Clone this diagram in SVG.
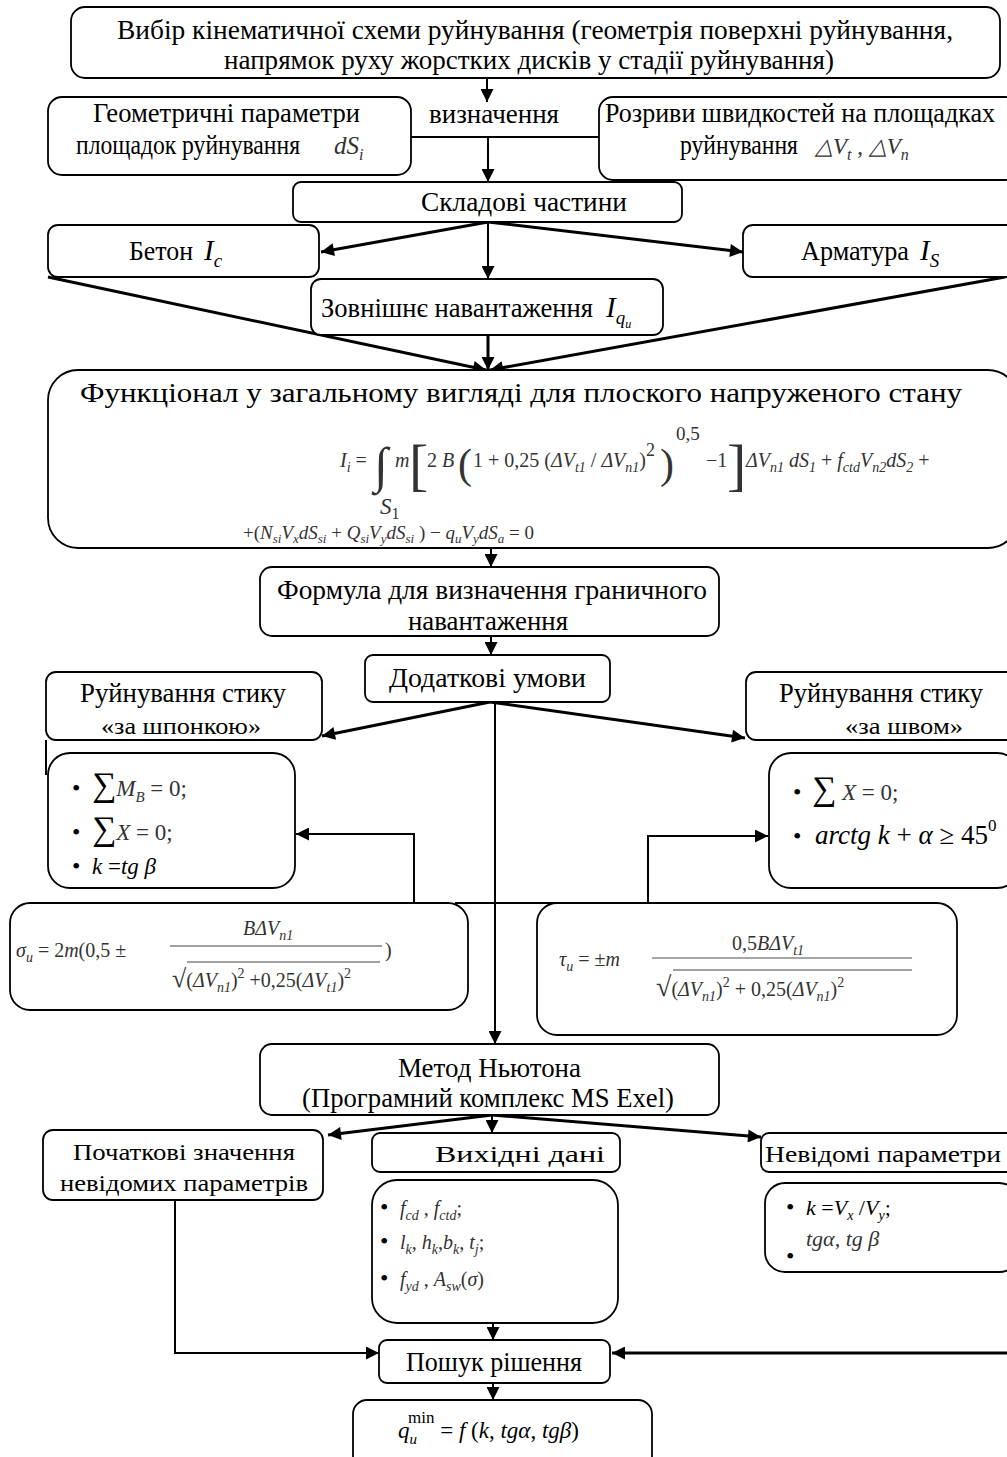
<svg xmlns="http://www.w3.org/2000/svg" width="1007" height="1457" viewBox="0 0 1007 1457">
<style>
.box{fill:#fff;stroke:#000;stroke-width:1.8}
.t{font-family:"Liberation Serif","Times New Roman",serif;font-size:27px;fill:#000}
.w{font-family:"Liberation Serif","Times New Roman",serif;font-size:24px;fill:#000}
.m{font-family:"Liberation Serif","Times New Roman",serif;font-style:italic;font-size:20px;fill:#333}
.n{font-style:normal}
.c{stroke:#000;stroke-width:2;fill:none}
.k{stroke:#000;stroke-width:3;fill:none}
.b{font-family:"Liberation Serif",serif;font-size:24px;fill:#000}
</style>
<defs>
<marker id="ah" viewBox="0 0 10 10" refX="10" refY="5" markerWidth="16" markerHeight="13" markerUnits="userSpaceOnUse" orient="auto"><path d="M0,0 L10,5 L0,10 z" fill="#000"/></marker>
</defs>
<rect width="1007" height="1457" fill="#fff"/>

<g id="connectors">
<line class="c" x1="487" y1="78" x2="487" y2="102" marker-end="url(#ah)"/>
<line class="c" x1="411" y1="137" x2="599" y2="137"/>
<line class="c" x1="488" y1="137" x2="488" y2="182" marker-end="url(#ah)"/>
<line class="k" x1="488" y1="222" x2="321" y2="252" marker-end="url(#ah)"/>
<line class="k" x1="488" y1="222" x2="743" y2="252" marker-end="url(#ah)"/>
<line class="c" x1="488" y1="222" x2="488" y2="279" marker-end="url(#ah)"/>
<line class="k" x1="48" y1="277" x2="486" y2="370" marker-end="url(#ah)"/>
<line class="k" x1="1005" y1="277" x2="490" y2="370" marker-end="url(#ah)"/>
<line class="k" x1="488" y1="335" x2="488" y2="370" marker-end="url(#ah)"/>
<line class="c" x1="491" y1="548" x2="491" y2="567" marker-end="url(#ah)"/>
<line class="c" x1="491" y1="636" x2="491" y2="655" marker-end="url(#ah)"/>
<line class="k" x1="490" y1="702" x2="322" y2="736" marker-end="url(#ah)"/>
<line class="k" x1="490" y1="702" x2="745" y2="738" marker-end="url(#ah)"/>
<line class="c" x1="495" y1="702" x2="495" y2="1044" marker-end="url(#ah)"/>
<line class="c" x1="46" y1="740" x2="46" y2="775"/>
<polyline class="c" points="414,903 414,834 296,834" marker-end="url(#ah)"/>
<polyline class="c" points="648,903 648,836 768,836" marker-end="url(#ah)"/>
<line class="c" x1="455" y1="903" x2="570" y2="903"/>
<line class="k" x1="492" y1="1115" x2="328" y2="1135" marker-end="url(#ah)"/>
<line class="c" x1="492" y1="1115" x2="492" y2="1133" marker-end="url(#ah)"/>
<line class="k" x1="492" y1="1115" x2="761" y2="1137" marker-end="url(#ah)"/>
<line class="c" x1="493" y1="1323" x2="493" y2="1340" marker-end="url(#ah)"/>
<polyline class="c" points="175,1200 175,1353 379,1353" marker-end="url(#ah)"/>
<line class="k" x1="1007" y1="1353" x2="612" y2="1353" marker-end="url(#ah)"/>
<line class="c" x1="493" y1="1383" x2="493" y2="1400" marker-end="url(#ah)"/>
</g>

<g id="n-choice">
<rect class="box" x="71" y="7" width="929" height="71" rx="14"/>
<text class="t" x="117" y="39" textLength="836" lengthAdjust="spacingAndGlyphs">Вибір кінематичної схеми руйнування (геометрія поверхні руйнування,</text>
<text class="t" x="224" y="69" textLength="610" lengthAdjust="spacingAndGlyphs">напрямок руху жорстких дисків у стадії руйнування)</text>
</g>

<g id="n-geom">
<rect class="box" x="48" y="97" width="363" height="78" rx="14"/>
<text class="t" x="93" y="122" textLength="267" lengthAdjust="spacingAndGlyphs">Геометричні параметри</text>
<text class="t" x="76" y="154" textLength="224" lengthAdjust="spacingAndGlyphs">площадок руйнування</text>
<text class="m" x="334" y="154" style="font-size:25px">dS<tspan font-size="16" dy="6">i</tspan></text>
</g>

<text id="lbl-def" class="t" x="429" y="123" textLength="130" lengthAdjust="spacingAndGlyphs">визначення</text>

<g id="n-rupt">
<rect class="box" x="599" y="97" width="420" height="83" rx="14"/>
<text class="t" x="605" y="122" textLength="390" lengthAdjust="spacingAndGlyphs">Розриви швидкостей на площадках</text>
<text class="t" x="680" y="154" textLength="118" lengthAdjust="spacingAndGlyphs">руйнування</text>
<text class="m" x="815" y="154" style="font-size:23px">△V<tspan font-size="16" dy="6">t</tspan><tspan class="n" dy="-6"> , </tspan>△V<tspan font-size="16" dy="6">n</tspan></text>
</g>

<g id="n-parts">
<rect class="box" x="293" y="182" width="389" height="40" rx="8"/>
<text class="t" x="421" y="211" textLength="206" lengthAdjust="spacingAndGlyphs">Складові частини</text>
</g>

<g id="n-concrete">
<rect class="box" x="48" y="225" width="271" height="52" rx="10"/>
<text class="t" x="129" y="260" textLength="64" lengthAdjust="spacingAndGlyphs">Бетон</text>
<text class="m" x="204" y="260" style="font-size:29px;fill:#000">I<tspan font-size="19" dy="7">c</tspan></text>
</g>

<g id="n-rebar">
<rect class="box" x="743" y="225" width="276" height="52" rx="10"/>
<text class="t" x="801" y="260" textLength="108" lengthAdjust="spacingAndGlyphs">Арматура</text>
<text class="m" x="920" y="260" style="font-size:29px;fill:#000">I<tspan font-size="19" dy="7">S</tspan></text>
</g>

<g id="n-ext">
<rect class="box" x="311" y="279" width="352" height="56" rx="10"/>
<text class="t" x="321" y="317" textLength="272" lengthAdjust="spacingAndGlyphs">Зовнішнє навантаження</text>
<text class="m" x="606" y="317" style="font-size:29px;fill:#000">I<tspan font-size="19" dy="7">q</tspan><tspan font-size="12" dy="4">u</tspan></text>
</g>

<g id="n-functional">
<rect class="box" x="48" y="370" width="970" height="178" rx="30"/>
<text class="t" x="80" y="402" textLength="882" lengthAdjust="spacingAndGlyphs">Функціонал у загальному вигляді для плоского напруженого стану</text>
<text class="m" x="340" y="467">I<tspan font-size="14" dy="5">i</tspan><tspan class="n" dy="-5"> =</tspan></text>
<text class="m" x="374" y="482" style="font-size:50px;font-style:normal">∫</text>
<text class="m" x="395" y="467">m</text>
<text class="m" x="409" y="484" style="font-size:58px;font-style:normal">[</text>
<text class="m" x="427" y="467"><tspan class="n">2</tspan> B</text>
<text class="m" x="458" y="478" style="font-size:42px;font-style:normal">(</text>
<text class="m" x="473" y="467"><tspan class="n">1 + 0,25 (</tspan>ΔV<tspan font-size="14" dy="5">t1</tspan><tspan class="n" dy="-5"> / </tspan>ΔV<tspan font-size="14" dy="5">n1</tspan><tspan class="n" dy="-5">)</tspan><tspan class="n" font-size="18" dy="-11">2</tspan></text>
<text class="m" x="660" y="478" style="font-size:42px;font-style:normal">)</text>
<text class="m" x="676" y="440" style="font-size:19px;font-style:normal">0,5</text>
<text class="m" x="706" y="467" style="font-style:normal">−1</text>
<text class="m" x="727" y="484" style="font-size:58px;font-style:normal">]</text>
<text class="m" x="746" y="467">ΔV<tspan font-size="14" dy="5">n1</tspan><tspan dy="-5"> dS</tspan><tspan font-size="14" dy="5">1</tspan><tspan class="n" dy="-5"> + </tspan>f<tspan font-size="14" dy="5">ctd</tspan><tspan dy="-5">V</tspan><tspan font-size="14" dy="5">n2</tspan><tspan dy="-5">dS</tspan><tspan font-size="14" dy="5">2</tspan><tspan class="n" dy="-5"> +</tspan></text>
<text class="m" x="380" y="514" style="font-size:23px">S<tspan class="n" font-size="16" dy="5">1</tspan></text>
<text class="m" x="243" y="539" style="font-size:19px"><tspan class="n">+(</tspan>N<tspan font-size="13" dy="4">si</tspan><tspan dy="-4">V</tspan><tspan font-size="13" dy="4">x</tspan><tspan dy="-4">dS</tspan><tspan font-size="13" dy="4">si</tspan><tspan class="n" dy="-4"> + </tspan>Q<tspan font-size="13" dy="4">si</tspan><tspan dy="-4">V</tspan><tspan font-size="13" dy="4">y</tspan><tspan dy="-4">dS</tspan><tspan font-size="13" dy="4">si</tspan><tspan class="n" dy="-4"> ) − </tspan>q<tspan font-size="13" dy="4">u</tspan><tspan dy="-4">V</tspan><tspan font-size="13" dy="4">y</tspan><tspan dy="-4">dS</tspan><tspan font-size="13" dy="4">a</tspan><tspan class="n" dy="-4"> = 0</tspan></text>
</g>

<g id="n-formula">
<rect class="box" x="260" y="567" width="459" height="69" rx="12"/>
<text class="t" x="277" y="599" textLength="430" lengthAdjust="spacingAndGlyphs">Формула для визначення граничного</text>
<text class="t" x="408" y="630" textLength="160" lengthAdjust="spacingAndGlyphs">навантаження</text>
</g>

<g id="n-extra">
<rect class="box" x="365" y="655" width="245" height="47" rx="8"/>
<text class="t" x="389" y="687" textLength="197" lengthAdjust="spacingAndGlyphs">Додаткові умови</text>
</g>

<g id="n-key">
<rect class="box" x="46" y="672" width="276" height="68" rx="10"/>
<text class="t" x="80" y="702" textLength="206" lengthAdjust="spacingAndGlyphs">Руйнування стику</text>
<text class="w" x="101" y="734" textLength="160" lengthAdjust="spacingAndGlyphs">«за шпонкою»</text>
</g>

<g id="n-seam">
<rect class="box" x="746" y="672" width="273" height="68" rx="10"/>
<text class="t" x="779" y="702" textLength="204" lengthAdjust="spacingAndGlyphs">Руйнування стику</text>
<text class="w" x="845" y="734" textLength="118" lengthAdjust="spacingAndGlyphs">«за швом»</text>
</g>

<g id="n-key-cond">
<rect class="box" x="48" y="753" width="247" height="135" rx="22"/>
<text class="b" x="72" y="796">•</text>
<text class="m" x="92" y="796" style="font-size:23px"><tspan class="n" font-size="34" fill="#000">∑</tspan>M<tspan font-size="15" dy="6">B</tspan><tspan class="n" dy="-6"> = 0;</tspan></text>
<text class="b" x="72" y="840">•</text>
<text class="m" x="92" y="840" style="font-size:23px"><tspan class="n" font-size="34" fill="#000">∑</tspan>X<tspan class="n"> = 0;</tspan></text>
<text class="b" x="72" y="874">•</text>
<text class="m" x="92" y="874" style="font-size:23px;fill:#000">k<tspan class="n"> =</tspan>tg β</text>
</g>

<g id="n-seam-cond">
<rect class="box" x="769" y="753" width="250" height="135" rx="22"/>
<text class="b" x="793" y="800">•</text>
<text class="m" x="812" y="800" style="font-size:23px"><tspan class="n" font-size="34" fill="#000">∑</tspan> X<tspan class="n"> = 0;</tspan></text>
<text class="b" x="793" y="844">•</text>
<text class="m" x="815" y="844" style="font-size:27px;fill:#000">arctg k <tspan class="n">+</tspan> α <tspan class="n">≥ 45</tspan><tspan class="n" font-size="17" dy="-13">0</tspan></text>
</g>

<g id="n-sigma">
<rect class="box" x="10" y="903" width="458" height="107" rx="20"/>
<text class="m" x="16" y="957">σ<tspan font-size="14" dy="5">u</tspan><tspan class="n" dy="-5"> = 2</tspan>m<tspan class="n">(0,5 ±</tspan></text>
<text class="m" x="243" y="935">BΔV<tspan font-size="14" dy="5">n1</tspan></text>
<line x1="170" y1="946" x2="382" y2="946" stroke="#444" stroke-width="1.2"/>
<text class="m" x="172" y="987"><tspan class="n" font-size="26">√</tspan><tspan class="n">(</tspan>ΔV<tspan font-size="14" dy="5">n1</tspan><tspan class="n" dy="-5">)</tspan><tspan class="n" font-size="14" dy="-9">2</tspan><tspan class="n" dy="9"> +0,25(</tspan>ΔV<tspan font-size="14" dy="5">t1</tspan><tspan class="n" dy="-5">)</tspan><tspan class="n" font-size="14" dy="-9">2</tspan></text>
<line x1="187" y1="962" x2="380" y2="962" stroke="#444" stroke-width="1"/>
<text class="m" x="385" y="957" style="font-style:normal">)</text>
</g>

<g id="n-tau">
<rect class="box" x="537" y="903" width="420" height="132" rx="20"/>
<text class="m" x="559" y="966">τ<tspan font-size="14" dy="5">u</tspan><tspan class="n" dy="-5"> = ±</tspan>m</text>
<text class="m" x="732" y="950"><tspan class="n">0,5</tspan>BΔV<tspan font-size="14" dy="5">t1</tspan></text>
<line x1="652" y1="958" x2="912" y2="958" stroke="#888" stroke-width="1.5"/>
<text class="m" x="656" y="996"><tspan class="n" font-size="28">√</tspan><tspan class="n">(</tspan>ΔV<tspan font-size="14" dy="5">n1</tspan><tspan class="n" dy="-5">)</tspan><tspan class="n" font-size="14" dy="-9">2</tspan><tspan class="n" dy="9"> + 0,25(</tspan>ΔV<tspan font-size="14" dy="5">n1</tspan><tspan class="n" dy="-5">)</tspan><tspan class="n" font-size="14" dy="-9">2</tspan></text>
<line x1="673" y1="970" x2="912" y2="970" stroke="#444" stroke-width="1"/>
</g>

<g id="n-newton">
<rect class="box" x="260" y="1044" width="459" height="71" rx="12"/>
<text class="t" x="398" y="1077" textLength="183" lengthAdjust="spacingAndGlyphs">Метод Ньютона</text>
<text class="t" x="302" y="1107" textLength="372" lengthAdjust="spacingAndGlyphs">(Програмний комплекс MS Exel)</text>
</g>

<g id="n-initial">
<rect class="box" x="43" y="1130" width="280" height="70" rx="10"/>
<text class="w" x="73" y="1160" textLength="222" lengthAdjust="spacingAndGlyphs">Початкові значення</text>
<text class="w" x="60" y="1191" textLength="248" lengthAdjust="spacingAndGlyphs">невідомих параметрів</text>
</g>

<g id="n-input">
<rect class="box" x="372" y="1133" width="248" height="39" rx="8"/>
<text class="w" x="435" y="1162" textLength="170" lengthAdjust="spacingAndGlyphs">Вихідні дані</text>
</g>

<g id="n-unknown">
<rect class="box" x="761" y="1133" width="258" height="39" rx="8"/>
<text class="w" x="765" y="1162" textLength="236" lengthAdjust="spacingAndGlyphs">Невідомі параметри</text>
</g>

<g id="n-input-list">
<rect class="box" x="372" y="1180" width="246" height="143" rx="25"/>
<text class="b" x="380" y="1215">•</text>
<text class="m" x="400" y="1215">f<tspan font-size="14" dy="5">cd</tspan><tspan class="n" dy="-5"> , </tspan>f<tspan font-size="14" dy="5">ctd</tspan><tspan class="n" dy="-5">;</tspan></text>
<text class="b" x="380" y="1249">•</text>
<text class="m" x="400" y="1249">l<tspan font-size="14" dy="5">k</tspan><tspan class="n" dy="-5">, </tspan>h<tspan font-size="14" dy="5">k</tspan><tspan class="n" dy="-5">,</tspan>b<tspan font-size="14" dy="5">k</tspan><tspan class="n" dy="-5">, </tspan>t<tspan font-size="14" dy="5">j</tspan><tspan class="n" dy="-5">;</tspan></text>
<text class="b" x="380" y="1286">•</text>
<text class="m" x="400" y="1286">f<tspan font-size="14" dy="5">yd</tspan><tspan class="n" dy="-5"> , </tspan>A<tspan font-size="14" dy="5">sw</tspan><tspan class="n" dy="-5">(</tspan>σ<tspan class="n">)</tspan></text>
</g>

<g id="n-unknown-list">
<rect class="box" x="765" y="1183" width="254" height="89" rx="20"/>
<text class="b" x="786" y="1215">•</text>
<text class="m" x="806" y="1215" style="font-size:22px;fill:#000">k<tspan class="n"> =</tspan>V<tspan font-size="14" dy="5">x</tspan><tspan class="n" dy="-5"> /</tspan>V<tspan font-size="14" dy="5">y</tspan><tspan class="n" dy="-5">;</tspan></text>
<text class="b" x="786" y="1264">•</text>
<text class="m" x="806" y="1246" style="font-size:22px">tgα, tg β</text>
</g>

<g id="n-search">
<rect class="box" x="379" y="1340" width="231" height="43" rx="8"/>
<text class="t" x="406" y="1371" textLength="176" lengthAdjust="spacingAndGlyphs">Пошук рішення</text>
</g>

<g id="n-result">
<rect class="box" x="353" y="1400" width="299" height="70" rx="14"/>
<text class="m" x="398" y="1438" style="font-size:23px;fill:#000">q<tspan font-size="15" dy="6">u</tspan><tspan class="n" font-size="17" dx="-9" dy="-21">min</tspan><tspan class="n" dy="15"> = </tspan>f <tspan class="n">(</tspan>k<tspan class="n">, </tspan>tgα<tspan class="n">, </tspan>tgβ<tspan class="n">)</tspan></text>
</g>
</svg>
